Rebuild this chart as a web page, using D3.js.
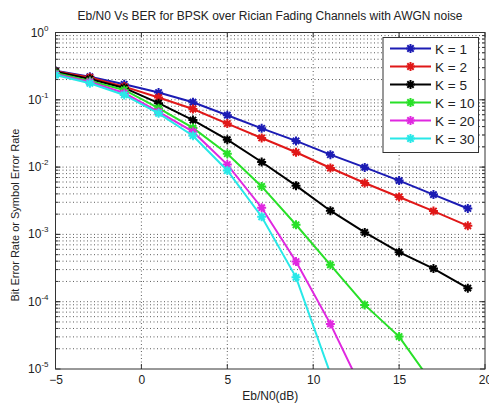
<!DOCTYPE html>
<html>
<head>
<meta charset="utf-8">
<script src="https://cdn.jsdelivr.net/npm/d3@7"></script>
<style>
  body { margin: 0; background: #fff; }
  text { font-family: "Liberation Sans", Arial, sans-serif; fill: #222; }
</style>
</head>
<body>
<div id="container"></div>
<script>
// Eb/N0 points (dB)
const snr = [-5, -3, -1, 1, 3, 5, 7, 9, 11, 13, 15, 17, 19];

// BER per Rician K factor
const ber_k1  = [0.27, 0.22, 0.17, 0.128, 0.092, 0.059, 0.0377, 0.0245, 0.0153, 0.0099, 0.0063, 0.0039, 0.00243];
const ber_k2  = [0.265, 0.215, 0.157, 0.108, 0.073, 0.0443, 0.0271, 0.0166, 0.0097, 0.0058, 0.0036, 0.00222, 0.00134];
const ber_k5  = [0.262, 0.204, 0.150, 0.089, 0.050, 0.0256, 0.0119, 0.0053, 0.00225, 0.00107, 0.000545, 0.000311, 0.000159];
const ber_k10 = [0.25, 0.19, 0.14, 0.075, 0.0382, 0.0158, 0.00516, 0.00139, 0.000353, 0.0000896, 0.0000303, 0.0000058];
const ber_k20 = [0.24, 0.184, 0.126, 0.066, 0.0336, 0.0109, 0.00249, 0.000395, 0.0000468, 0.0000041];
const ber_k30 = [0.233, 0.176, 0.118, 0.063, 0.0293, 0.0089, 0.00183, 0.00023, 0.0000085];

const legendLabels = ["K = 1", "K = 2", "K = 5", "K = 10", "K = 20", "K = 30"];
const seriesColors = ["#1c1cb4", "#e01818", "#000000", "#28e028", "#e028e0", "#28e8e8"];

const xTicks = [-5, 0, 5, 10, 15, 20];
const yExponents = [0, -1, -2, -3, -4, -5];

const title = "Eb/N0 Vs BER for BPSK over Rician Fading Channels with AWGN noise";
const xLabel = "Eb/N0(dB)";
const yLabel = "Bit Error Rate or Symbol Error Rate";

const W = 489, H = 407;
const margin = {top: 32.5, left: 55.5, right: 4, bottom: 38};
const width = W - margin.left - margin.right,
      height = H - margin.top - margin.bottom;

const svg = d3.select("#container").append("svg")
  .attr("width", W).attr("height", H);

svg.append("defs").append("clipPath").attr("id", "clip")
  .append("rect").attr("width", width).attr("height", height);

const plot = svg.append("g")
  .attr("transform", "translate(" + margin.left + "," + margin.top + ")");

const x = d3.scaleLinear().domain([-5, 20]).range([0, width]);
const y = d3.scaleLog().domain([1e-5, 1]).range([height, 0]);

// grid
const grid = plot.append("g").attr("class", "grid")
  .attr("stroke", "#333").attr("stroke-width", 0.8).attr("stroke-dasharray", "1,2.5").attr("fill", "none");

xTicks.slice(1, -1).forEach(t => {
  grid.append("line").attr("x1", x(t)).attr("x2", x(t)).attr("y1", 0).attr("y2", height);
});

const minorY = [];
for (let e = -5; e < 0; e++) {
  for (let m = 1; m < 10; m++) minorY.push(m * Math.pow(10, e));
}
minorY.filter(v => v > 1e-5).forEach(v => {
  grid.append("line").attr("x1", 0).attr("x2", width).attr("y1", y(v)).attr("y2", y(v));
});

// series
const allSeries = [ber_k1, ber_k2, ber_k5, ber_k10, ber_k20, ber_k30];
const lineGen = d3.line().x(d => x(d[0])).y(d => y(d[1]));

const lines = plot.append("g").attr("clip-path", "url(#clip)");

function starPath(s) {
  let p = "";
  for (let i = 0; i < 4; i++) {
    const a = i * Math.PI / 4;
    const dx = Math.cos(a) * s, dy = Math.sin(a) * s;
    p += "M" + (-dx) + "," + (-dy) + "L" + dx + "," + dy;
  }
  return p;
}

allSeries.forEach((vals, i) => {
  const pts = vals.map((v, j) => [snr[j], v]);
  const g = lines.append("g");
  g.append("path")
    .attr("d", lineGen(pts))
    .attr("fill", "none")
    .attr("stroke", seriesColors[i])
    .attr("stroke-width", 2);
  g.selectAll("path.mk")
    .data(pts)
    .enter()
    .append("path")
    .attr("class", "mk")
    .attr("transform", d => "translate(" + x(d[0]) + "," + y(d[1]) + ")")
    .attr("d", starPath(4.5))
    .attr("stroke", seriesColors[i])
    .attr("stroke-width", 2);
});

// axes box
plot.append("rect").attr("width", width).attr("height", height)
  .attr("fill", "none").attr("stroke", "#333").attr("stroke-width", 1);

const ticks = plot.append("g").attr("stroke", "#333").attr("stroke-width", 1);
xTicks.forEach(t => {
  ticks.append("line").attr("x1", x(t)).attr("x2", x(t)).attr("y1", height).attr("y2", height - 5);
  ticks.append("line").attr("x1", x(t)).attr("x2", x(t)).attr("y1", 0).attr("y2", 5);
});
yExponents.forEach(e => {
  const v = Math.pow(10, e);
  ticks.append("line").attr("x1", 0).attr("x2", 5).attr("y1", y(v)).attr("y2", y(v));
  ticks.append("line").attr("x1", width).attr("x2", width - 5).attr("y1", y(v)).attr("y2", y(v));
});
minorY.filter(v => v > 1e-5).forEach(v => {
  ticks.append("line").attr("x1", 0).attr("x2", 3).attr("y1", y(v)).attr("y2", y(v));
  ticks.append("line").attr("x1", width).attr("x2", width - 3).attr("y1", y(v)).attr("y2", y(v));
});

// tick labels
const xAxis = d3.axisBottom(x).tickValues(xTicks).tickSize(0).tickPadding(6).tickFormat(d3.format("d"));
const xg = plot.append("g").attr("transform", "translate(0," + height + ")").call(xAxis);
xg.select(".domain").remove();
xg.selectAll("text").style("font-size", "12px").attr("fill", "#222");

const yl = plot.append("g");
yExponents.forEach(e => {
  const t = yl.append("text")
    .attr("x", -7)
    .attr("y", y(Math.pow(10, e)) + 4)
    .attr("text-anchor", "end")
    .style("font-size", "12px");
  t.append("tspan").text("10");
  t.append("tspan").text(e).attr("dy", -6).style("font-size", "8px");
});

// labels
svg.append("text").attr("x", 270).attr("y", 20).attr("text-anchor", "middle")
  .style("font-size", "12px").text(title);
svg.append("text").attr("x", margin.left + x(7.5)).attr("y", 400).attr("text-anchor", "middle")
  .style("font-size", "12px").text(xLabel);
svg.append("text")
  .attr("transform", "translate(19,215) rotate(-90)")
  .attr("text-anchor", "middle").style("font-size", "11px").text(yLabel);

// legend
const legend = svg.append("g").attr("transform", "translate(383,37.5)");
legend.append("rect").attr("width", 95.5).attr("height", 115)
  .attr("fill", "#fff").attr("stroke", "#333").attr("stroke-width", 1);
legendLabels.forEach((lab, i) => {
  const ly = 11 + i * 18;
  legend.append("line").attr("x1", 7).attr("x2", 48).attr("y1", ly).attr("y2", ly)
    .attr("stroke", seriesColors[i]).attr("stroke-width", 2);
  legend.append("path").attr("transform", "translate(27.5," + ly + ")")
    .attr("d", starPath(4.5)).attr("stroke", seriesColors[i]).attr("stroke-width", 2);
  legend.append("text").attr("x", 52).attr("y", ly + 5).style("font-size", "13.5px").text(lab);
});
</script>
</body>
</html>
